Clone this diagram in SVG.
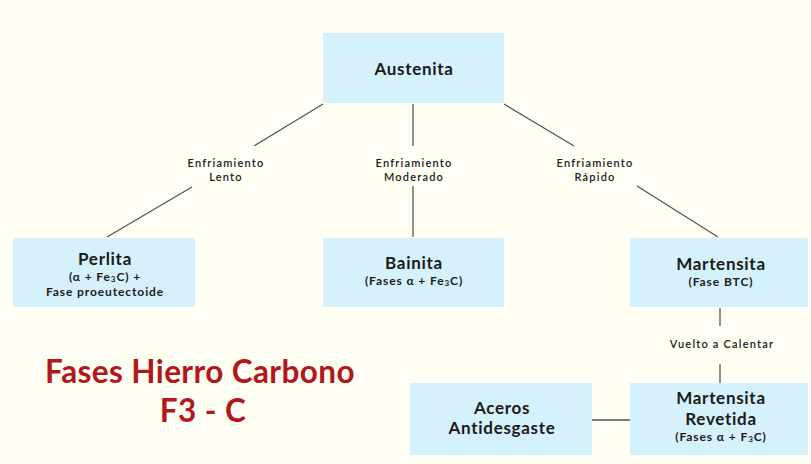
<svg xmlns="http://www.w3.org/2000/svg" width="811" height="464" viewBox="0 0 811 464">
<style>
.bg{fill:#fffff4}
.box{fill:#d5f1fb}
.t{font-family:Lato,"Open Sans",sans-serif;fill:#1a1a1a;text-anchor:middle}
.h{font-size:17px;font-weight:700;letter-spacing:0.7px}
.s{font-size:12px;font-weight:700;letter-spacing:0.9px}
.l{font-size:11px;font-weight:600;letter-spacing:1.2px}
.c{stroke:#555;stroke-width:1.3;fill:none}
.title{font-family:Lato,"Open Sans",sans-serif;font-size:31.5px;font-weight:700;fill:#b3161b;text-anchor:middle;letter-spacing:0.4px}
</style>
<rect class="bg" width="811" height="464"/>
<g id="connectors">
<line class="c" x1="323" y1="104" x2="254" y2="146"/>
<line class="c" x1="192" y1="187" x2="107" y2="237"/>
<line class="c" x1="413" y1="104" x2="413" y2="146"/>
<line class="c" x1="413" y1="186" x2="413" y2="237"/>
<line class="c" x1="504" y1="104" x2="574" y2="146"/>
<line class="c" x1="637" y1="186" x2="718" y2="237"/>
<line class="c" x1="720" y1="308" x2="720" y2="326"/>
<line class="c" x1="720" y1="364" x2="720" y2="383"/>
<line class="c" x1="592" y1="420" x2="630" y2="420"/>
<text class="t l" x="226" y="167">Enfriamiento</text>
<text class="t l" x="226" y="180.5">Lento</text>
<text class="t l" x="414" y="167">Enfriamiento</text>
<text class="t l" x="414" y="180.5">Moderado</text>
<text class="t l" x="595" y="167">Enfriamiento</text>
<text class="t l" x="595" y="180.5">Rápido</text>
<text class="t l" x="722" y="348">Vuelto a Calentar</text>
</g>
<g id="austenita">
<rect class="box" x="323" y="33" width="181" height="70"/>
<text class="t h" x="414" y="75">Austenita</text>
</g>
<g id="perlita">
<rect class="box" x="13" y="238" width="182" height="69"/>
<text class="t h" x="105" y="265">Perlita</text>
<text class="t s" x="105" y="280.5">(α + Fe<tspan font-size="8" dy="1">3</tspan><tspan dy="-1">C) +</tspan></text>
<text class="t s" x="105" y="295.5">Fase proeutectoide</text>
</g>
<g id="bainita">
<rect class="box" x="323" y="238" width="181" height="69"/>
<text class="t h" x="414" y="269">Bainita</text>
<text class="t s" x="414" y="284.5">(Fases α + Fe<tspan font-size="8" dy="1">3</tspan><tspan dy="-1">C)</tspan></text>
</g>
<g id="martensita">
<rect class="box" x="630" y="238" width="178" height="69"/>
<text class="t h" x="721" y="270">Martensita</text>
<text class="t s" x="721" y="286">(Fase BTC)</text>
</g>
<g id="martensita-revetida">
<rect class="box" x="630" y="383" width="178" height="72"/>
<text class="t h" x="721" y="404">Martensita</text>
<text class="t h" x="721" y="425">Revetida</text>
<text class="t s" x="721" y="440.5">(Fases α + F<tspan font-size="8" dy="1">3</tspan><tspan dy="-1">C)</tspan></text>
</g>
<g id="aceros">
<rect class="box" x="410" y="383" width="182" height="72"/>
<text class="t h" x="502" y="413.5">Aceros</text>
<text class="t h" x="502" y="434">Antidesgaste</text>
</g>
<g id="title">
<text class="title" x="200" y="383">Fases Hierro Carbono</text>
<text class="title" x="203" y="422">F3 - C</text>
</g>
</svg>
